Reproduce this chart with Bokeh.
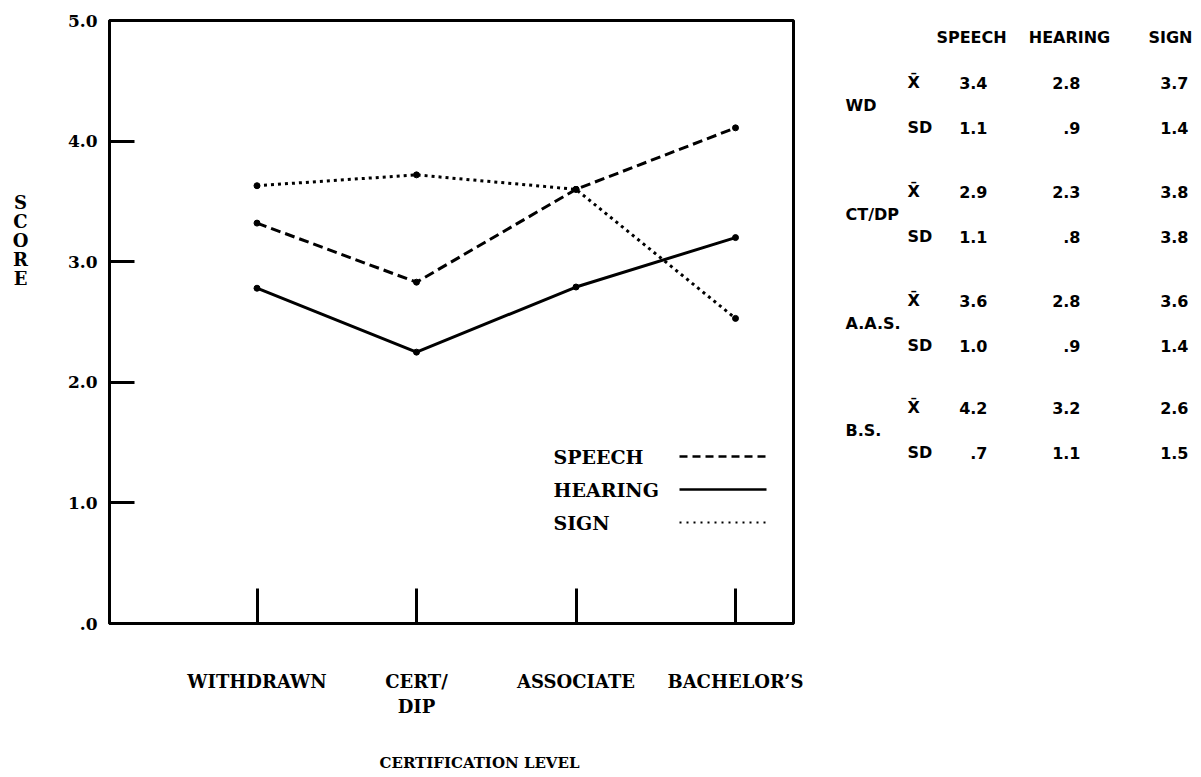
from bokeh.plotting import figure
from bokeh.models import Range1d, FixedTicker, Label
from bokeh.layouts import row, column
from bokeh.core.properties import value
from bokeh.embed import file_html
from bokeh.resources import INLINE

# ---------------- data ----------------
categories = ["WITHDRAWN", "CERT/\nDIP", "ASSOCIATE", "BACHELOR\u2019S"]
cat_x = [1, 2, 3, 4]
speech = [3.32, 2.83, 3.60, 4.11]
hearing = [2.78, 2.25, 2.79, 3.20]
sign = [3.63, 3.72, 3.60, 2.53]
y_ticks = [0, 1, 2, 3, 4, 5]
y_tick_labels = [".0", "1.0", "2.0", "3.0", "4.0", "5.0"]

groups = ["WD", "CT/DP", "A.A.S.", "B.S."]
table_cols = ["SPEECH", "HEARING", "SIGN"]
speech_mean = [3.4, 2.9, 3.6, 4.2]
speech_sd = [1.1, 1.1, 1.0, 0.7]
hearing_mean = [2.8, 2.3, 2.8, 3.2]
hearing_sd = [0.9, 0.8, 0.9, 1.1]
sign_mean = [3.7, 3.8, 3.6, 2.6]
sign_sd = [1.4, 3.8, 1.4, 1.5]

# ---------------- layout (page pixels) ----------------
W, H = 1199, 775
HT = 735                    # height of the top row (plot + side strips)
LEFT_W = 50                 # strip holding the stacked "SCORE"
MAIN_R = 810                # right edge of main figure
FL, FR, FT, FB = 109, 793, 20, 623      # plot frame edges
CAT_PX0, CAT_STEP = 256.5, 159.5
x_start = 1 - (CAT_PX0 - FL) / CAT_STEP
x_end = 1 + (FR - CAT_PX0) / CAT_STEP
Y_MAX = 5.0


def X(px):
    return x_start + (px - FL) / (FR - FL) * (x_end - x_start)


def Y(py):
    return Y_MAX * (FB - py) / (FB - FT)


SERIF = "DejaVu Serif"
SANS = "DejaVu Sans"


def strip(width, height, x0, x1, top, bottom, border_top=0, border_bottom=0):
    """Axis-less figure whose data units are page pixels (y grows downward)."""
    f = figure(width=width, height=height, x_range=Range1d(x0, x1), y_range=Range1d(bottom, top),
               output_backend="svg", toolbar_location=None,
               x_axis_location=None, y_axis_location=None,
               min_border=0, min_border_left=0, min_border_right=0,
               min_border_top=border_top, min_border_bottom=border_bottom)
    f.grid.visible = False
    f.outline_line_color = None
    return f


# ---------------- left strip: SCORE ----------------
left = strip(LEFT_W, HT, 0, LEFT_W, FT, FB, FT, HT - FB)
score_letters = list("SCORE")
left.text(x=[20] * len(score_letters), y=[202 + 19 * i for i in range(len(score_letters))],
          text=score_letters, text_align="center", text_baseline="middle",
          text_font=value(SERIF), text_font_style="bold", text_font_size=value("18px"),
          text_color="black")

# ---------------- main plot ----------------
p = figure(width=MAIN_R - LEFT_W, height=HT, x_range=Range1d(x_start, x_end),
           y_range=Range1d(0, Y_MAX), output_backend="svg", toolbar_location=None,
           min_border_left=FL - LEFT_W, min_border_right=MAIN_R - FR,
           min_border_top=FT, min_border_bottom=HT - FB)
p.grid.visible = False
p.outline_line_color = "black"
p.outline_line_width = 3
p.outline_line_alpha = 1.0

xa = p.xaxis[0]
xa.ticker = FixedTicker(ticks=cat_x, minor_ticks=[])
xa.major_label_overrides = {x: c for x, c in zip(cat_x, categories)}
xa.major_tick_in = 35
xa.major_tick_out = 0
xa.major_tick_line_width = 3
xa.minor_tick_line_color = None
xa.axis_line_width = 3
xa.major_label_standoff = 47
xa.major_label_text_font = SERIF
xa.major_label_text_font_style = "bold"
xa.major_label_text_font_size = "18px"
xa.major_label_text_color = "black"
xa.major_label_text_line_height = 1.2

ya = p.yaxis[0]
ya.ticker = FixedTicker(ticks=y_ticks, minor_ticks=[])
ya.major_label_overrides = {t: l for t, l in zip(y_ticks, y_tick_labels)}
ya.major_tick_in = 25
ya.major_tick_out = 0
ya.major_tick_line_width = 3
ya.minor_tick_line_color = None
ya.axis_line_width = 3
ya.major_label_standoff = 12
ya.major_label_text_font = SERIF
ya.major_label_text_font_style = "bold"
ya.major_label_text_font_size = "17px"
ya.major_label_text_color = "black"

# series
p.line(cat_x, speech, line_color="black", line_width=3, line_dash="10 5")
p.line(cat_x, hearing, line_color="black", line_width=3)
p.line(cat_x, sign, line_color="black", line_width=3, line_dash="3 4")
for s in (speech, hearing, sign):
    p.scatter(cat_x, s, size=6, color="black")

# legend: text left, sample line right
leg_names = ["SPEECH", "HEARING", "SIGN"]
leg_dash = ["8 5", "solid", "2 5"]
leg_width = [2.5, 2.5, 2]
leg_y = [456, 489, 522]
for name, dash, lw, ly in zip(leg_names, leg_dash, leg_width, leg_y):
    p.add_layout(Label(x=X(553), y=Y(ly), text=name, text_align="left", text_baseline="middle",
                       text_font=SERIF, text_font_style="bold", text_font_size="19px",
                       text_color="black"))
    p.segment(x0=[X(679)], y0=[Y(ly)], x1=[X(766)], y1=[Y(ly)], line_color="black",
              line_width=lw, line_dash=dash)

# ---------------- right: table ----------------
tbl = strip(W - MAIN_R, HT, MAIN_R, W, FT, FB, FT, HT - FB)


def fmt(v):
    s = f"{v:.1f}"
    return s[1:] if s.startswith("0") else s


col_right = [987, 1080, 1188]
col_center = [971, 1069, 1170]
grp_top = [82, 191, 300, 407]
SD_OFF = 45

tbl.text(x=col_center, y=[37] * 3, text=table_cols, text_align="center", text_baseline="middle",
         text_font=value(SANS), text_font_style="bold", text_font_size=value("16px"),
         text_color="black")

lx, ly_, lt = [], [], []
vx, vy, vt = [], [], []
for gi, g in enumerate(groups):
    gy = grp_top[gi]
    lx += [845, 907, 907]
    ly_ += [gy + SD_OFF / 2, gy, gy + SD_OFF]
    lt += [g, "X\u0304", "SD"]
    for ci, (m, sd) in enumerate([(speech_mean, speech_sd), (hearing_mean, hearing_sd),
                                  (sign_mean, sign_sd)]):
        vx += [col_right[ci], col_right[ci]]
        vy += [gy, gy + SD_OFF]
        vt += [fmt(m[gi]), fmt(sd[gi])]

tbl.text(x=lx, y=ly_, text=lt, text_align="left", text_baseline="middle", text_font=value(SANS),
         text_font_style="bold", text_font_size=value("16px"), text_color="black")
tbl.text(x=vx, y=vy, text=vt, text_align="right", text_baseline="middle", text_font=value(SANS),
         text_font_style="bold", text_font_size=value("16px"), text_color="black")

# ---------------- bottom strip: axis title ----------------
bottom = strip(W, H - HT, 0, W, HT, H)
bottom.text(x=[479], y=[762], text=["CERTIFICATION LEVEL"], text_align="center",
            text_baseline="middle", text_font=value(SERIF), text_font_style="bold",
            text_font_size=value("15px"), text_color="black")

layout = column(row(left, p, tbl), bottom)
open("out.html", "w").write(file_html(layout, INLINE))
